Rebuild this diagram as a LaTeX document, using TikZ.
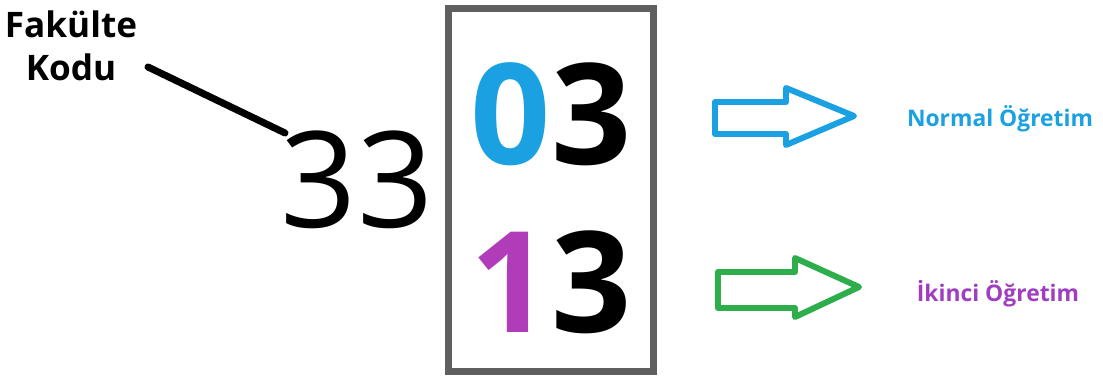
\documentclass[tikz,border=0pt]{standalone}
\usepackage{fontspec}
\setmainfont{Open Sans}
\usepackage{xcolor}
\usetikzlibrary{positioning,calc}
\definecolor{codeblue}{HTML}{1BA1E2}
\definecolor{codepurple}{HTML}{B03CBA}
\definecolor{labelpurple}{HTML}{A03EC0}
\definecolor{codegreen}{HTML}{2DAE4B}
\definecolor{boxgray}{HTML}{5F5F5F}
\tikzset{
  titletext/.style={font=\bfseries\fontsize{20}{24.5}\selectfont, align=center, inner sep=0pt},
  bignum/.style={font=\fontsize{76}{76}\selectfont, inner sep=0pt, anchor=base},
  boldnum/.style={font=\bfseries\fontsize{80}{80}\selectfont, inner sep=0pt, anchor=base},
  codebox/.style={draw=boxgray, line width=4pt, minimum width=116.8pt, minimum height=206.4pt, inner sep=0pt},
  kodline/.style={line width=4pt, line cap=round},
  hollowarrow/.style={line width=3.4pt, line join=round},
  typelabel/.style={font=\bfseries\fontsize{13}{15}\selectfont, inner sep=0pt, anchor=base}
}

\begin{document}
\begin{tikzpicture}[x=0.02cm, y=-0.02cm]
  \useasboundingbox (0,0) rectangle (1103,381);

  \node[titletext] (fakkod) at (71,46) {Fakülte\\Kodu};
  \node[bignum] (num) at (357,228) {33};
  \node[codebox] (box) at (551,190) {};
  \node[boldnum] (normal) at (551,165) {\textcolor{codeblue}{0}3};
  \node[boldnum] (ikinci) at (551,333) {\textcolor{codepurple}{1}3};

  \coordinate (kodA) at (148,67);
  \coordinate (kodB) at (285,133);
  \draw[kodline] (kodA) -- (kodB);

  % outline arrows
  \draw[hollowarrow, draw=codeblue] (715,102) -- (786,102) -- (786,88) -- (854,116)
    -- (786,145) -- (786,134) -- (715,134) -- cycle;
  \draw[hollowarrow, draw=codegreen] (718,272) -- (795,272) -- (795,258) -- (859,287)
    -- (795,317) -- (795,308) -- (718,308) -- cycle;

  \node[typelabel, text=codeblue] (normlbl) at (1000,127) {Normal Öğretim};
  \node[typelabel, text=labelpurple] (ikilbl) at (998,302) {İkinci Öğretim};
\end{tikzpicture}
\end{document}
